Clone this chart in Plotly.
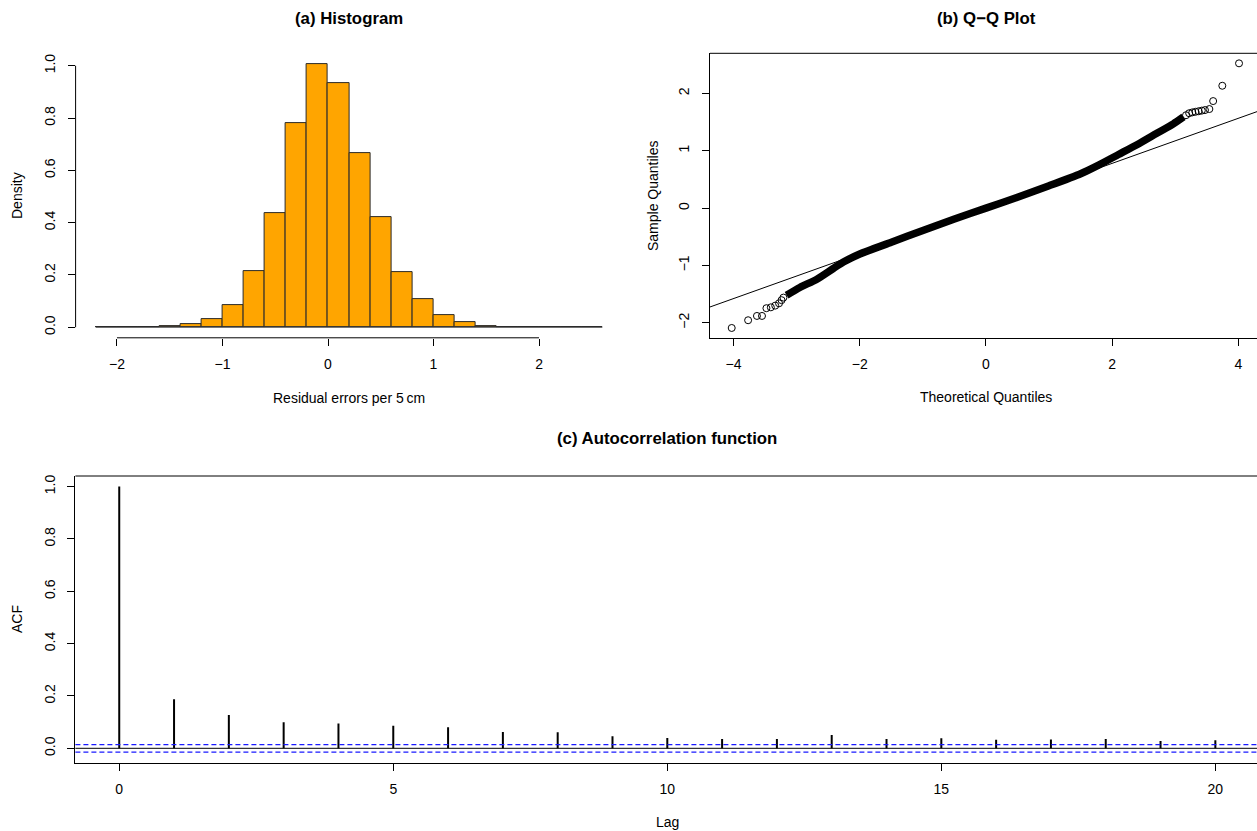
import plotly.graph_objects as go

W, H = 1257, 831
FONT = "Liberation Sans, Arial, Helvetica, sans-serif"

# ---------------- data ----------------
# (a) histogram: bin edges and densities
hist_edges = [-2.2, -2.0, -1.8, -1.6, -1.4, -1.2, -1.0, -0.8, -0.6, -0.4, -0.2, 0.0,
              0.2, 0.4, 0.6, 0.8, 1.0, 1.2, 1.4, 1.6, 1.8, 2.0, 2.2, 2.4, 2.6]
hist_density = [0.0, 0.0004, 0.001, 0.004, 0.012, 0.031, 0.086, 0.215, 0.438, 0.781,
                1.008, 0.934, 0.665, 0.423, 0.210, 0.108, 0.047, 0.018, 0.006, 0.002,
                0.0, 0.0, 0.0, 0.0]
hist_xticks = [-2, -1, 0, 1, 2]
hist_yticks = [0.0, 0.2, 0.4, 0.6, 0.8, 1.0]

# (b) Q-Q plot: dense central band, sparse tail points, reference line
qq_band_x = [-3.16, -2.95, -2.68, -2.42, -2.26, -2.0, -1.5, -1.0, -0.5, 0.0,
             0.5, 1.0, 1.5, 1.8, 2.1, 2.4, 2.7, 2.97, 3.13]
qq_band_y = [-1.52, -1.384, -1.24, -1.053, -0.94, -0.80, -0.595, -0.39, -0.19, 0.0,
             0.19, 0.39, 0.60, 0.76, 0.935, 1.11, 1.30, 1.47, 1.59]
qq_tail_x = [-4.03, -3.77, -3.63, -3.55, -3.48, -3.41, -3.34, -3.28, -3.24, -3.21,
             3.17, 3.22, 3.27, 3.32, 3.37, 3.42, 3.47, 3.54, 3.60, 3.745, 4.01]
qq_tail_y = [-2.09, -1.955, -1.88, -1.88, -1.745, -1.73, -1.70, -1.66, -1.605, -1.56,
             1.62, 1.655, 1.67, 1.68, 1.69, 1.70, 1.71, 1.728, 1.867, 2.134, 2.525]
qq_line_x = [-4.4, 4.4]
qq_line_y = [-1.734, 1.724]
qq_xticks = [-4, -2, 0, 2, 4]
qq_yticks = [-2, -1, 0, 1, 2]

# (c) ACF
acf_lags = list(range(0, 21))
acf_vals = [1.0, 0.187, 0.127, 0.100, 0.095, 0.086, 0.080, 0.062, 0.061, 0.046, 0.039,
            0.036, 0.036, 0.051, 0.036, 0.038, 0.033, 0.034, 0.036, 0.028, 0.031]
acf_ci = 0.0144
acf_xticks = [0, 5, 10, 15, 20]
acf_yticks = [0.0, 0.2, 0.4, 0.6, 0.8, 1.0]


def minus(v, fmt):
    return fmt.format(v).replace("-", "\u2212")


def px(x):
    return x / W


def py(y):
    return 1 - y / H


fig = go.Figure()

# ---- histogram ----
centers = [(a + b) / 2 for a, b in zip(hist_edges[:-1], hist_edges[1:])]
widths = [b - a for a, b in zip(hist_edges[:-1], hist_edges[1:])]
fig.add_trace(go.Bar(x=centers, y=hist_density, width=widths,
                     marker=dict(color="#FFA500", line=dict(color="#2a2a2a", width=1)),
                     xaxis="x", yaxis="y", showlegend=False, hoverinfo="x+y"))

# ---- Q-Q ----
fig.add_trace(go.Scatter(x=qq_line_x, y=qq_line_y, mode="lines",
                         line=dict(color="black", width=1),
                         xaxis="x2", yaxis="y2", showlegend=False))
fig.add_trace(go.Scatter(x=qq_band_x, y=qq_band_y, mode="lines",
                         line=dict(color="black", width=7.5, shape="spline", smoothing=0.6),
                         xaxis="x2", yaxis="y2", showlegend=False))
fig.add_trace(go.Scatter(x=qq_tail_x, y=qq_tail_y, mode="markers",
                         marker=dict(symbol="circle-open", size=7, color="black",
                                     line=dict(color="black", width=1)),
                         xaxis="x2", yaxis="y2", showlegend=False))

# ---- ACF stems (vertical segments from 0 to each value) ----
stem_x, stem_y = [], []
for lag, val in zip(acf_lags, acf_vals):
    stem_x += [lag, lag, None]
    stem_y += [0, val, None]
fig.add_trace(go.Scatter(x=stem_x, y=stem_y, mode="lines",
                         line=dict(color="black", width=2),
                         xaxis="x3", yaxis="y3", showlegend=False))

tickfont = dict(family=FONT, size=14, color="black")
common = dict(ticks="outside", ticklen=7, tickwidth=1, tickcolor="black",
              showgrid=False, zeroline=False, tickfont=tickfont, fixedrange=True)
xcommon = dict(ticklabelstandoff=6, **common)
ycommon = dict(ticklabelstandoff=7, tickangle=-90, **common)

# domains (pixels -> paper)
hx = [px(75.6), px(622.6)]
hy = [py(337.8), py(53.1)]
qx = [px(710), 1.0]
qy = [py(338.3), py(53.3)]
ax = [px(75.4), 1.0]
ay = [py(762.7), py(476)]

fig.update_layout(
    width=W, height=H,
    margin=dict(l=0, r=0, t=0, b=0),
    paper_bgcolor="white", plot_bgcolor="white",
    font=dict(family=FONT, size=14, color="black"),
    bargap=0,
    xaxis=dict(domain=hx, range=[-2.392, 2.792], anchor="y", showline=False,
               tickvals=hist_xticks, ticktext=[minus(v, "{:d}") for v in hist_xticks], **xcommon),
    yaxis=dict(domain=hy, range=[-0.0403, 1.0483], anchor="x", showline=False,
               tickvals=hist_yticks, ticktext=[minus(v, "{:.1f}") for v in hist_yticks], **ycommon),
    xaxis2=dict(domain=qx, range=[-4.374, 4.295], anchor="y2", showline=True,
                linecolor="black", linewidth=1,
                tickvals=qq_xticks, ticktext=[minus(v, "{:d}") for v in qq_xticks], **xcommon),
    yaxis2=dict(domain=qy, range=[-2.27, 2.70], anchor="x2", showline=True,
                linecolor="black", linewidth=1,
                tickvals=qq_yticks, ticktext=[minus(v, "{:d}") for v in qq_yticks], **ycommon),
    xaxis3=dict(domain=ax, range=[-0.8, 20.76], anchor="y3", showline=True,
                linecolor="black", linewidth=1,
                tickvals=acf_xticks, ticktext=[str(v) for v in acf_xticks], **xcommon),
    yaxis3=dict(domain=ay, range=[-0.055, 1.0405], anchor="x3", showline=True,
                linecolor="black", linewidth=1,
                tickvals=acf_yticks, ticktext=[minus(v, "{:.1f}") for v in acf_yticks], **ycommon),
)

shapes = []
# histogram axis lines (R style, from first to last tick)
shapes.append(dict(type="line", xref="x", yref="y domain", x0=min(hist_xticks), x1=max(hist_xticks),
                   y0=0, y1=0, line=dict(color="black", width=1)))
shapes.append(dict(type="line", xref="x domain", yref="y", x0=0, x1=0,
                   y0=min(hist_yticks), y1=max(hist_yticks), line=dict(color="black", width=1)))
# histogram baseline under zero-height bins
shapes.append(dict(type="line", xref="x", yref="y", x0=hist_edges[0], x1=hist_edges[-1],
                   y0=0, y1=0, line=dict(color="#555555", width=1.2), layer="below"))
# Q-Q and ACF top borders
shapes.append(dict(type="line", xref="x2 domain", yref="y2 domain", x0=0, x1=1, y0=1, y1=1,
                   line=dict(color="black", width=1)))
shapes.append(dict(type="line", xref="x3 domain", yref="y3 domain", x0=0, x1=1, y0=1, y1=1,
                   line=dict(color="black", width=1)))
# ACF zero line and confidence bounds
shapes.append(dict(type="line", xref="x3 domain", yref="y3", x0=0, x1=1, y0=0, y1=0,
                   line=dict(color="black", width=1)))
for c in (acf_ci, -acf_ci):
    shapes.append(dict(type="line", xref="x3 domain", yref="y3", x0=0, x1=1, y0=c, y1=c,
                       line=dict(color="#1a1aff", width=1.2, dash="5px,3px")))
fig.update_layout(shapes=shapes)

ann = []


def text(t, x, y, size=14, bold=False, angle=0):
    ann.append(dict(text=("<b>%s</b>" % t) if bold else t, x=px(x), y=py(y),
                    xref="paper", yref="paper", showarrow=False, xanchor="center",
                    yanchor="middle", textangle=angle,
                    font=dict(family=FONT, size=size, color="black")))


text("(a) Histogram", 349, 19, size=16.8, bold=True)
text("(b) Q\u2212Q Plot", 986, 19, size=16.8, bold=True)
text("(c) Autocorrelation function", 667, 438, size=16.8, bold=True)
text("Density", 17, 196, angle=-90)
text("Residual errors per 5\u2009cm", 349, 398)
text("Sample Quantiles", 653, 196, angle=-90)
text("Theoretical Quantiles", 986, 397)
text("ACF", 17, 619, angle=-90)
text("Lag", 667, 822)
fig.update_layout(annotations=ann)

fig.write_html("out.html",
               config={"displayModeBar": False},
               post_script="document.body.style.margin='0';document.body.style.padding='0';"
                           "document.body.style.overflow='hidden';")
